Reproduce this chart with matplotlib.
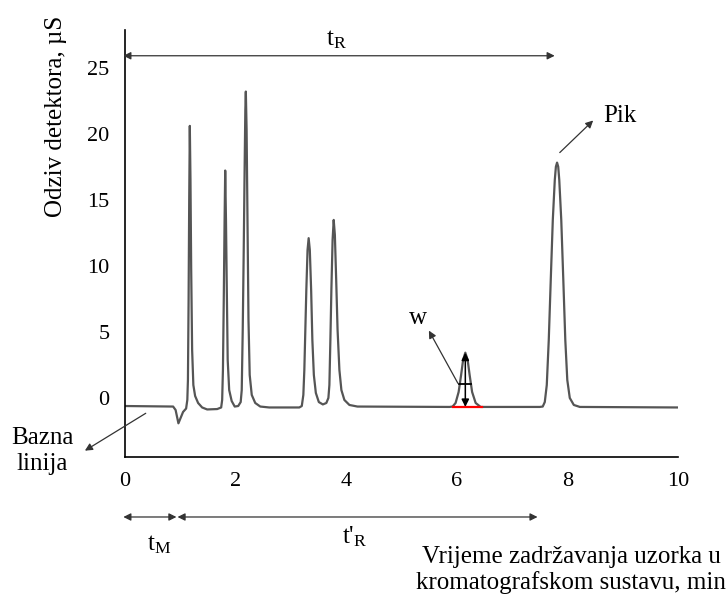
import matplotlib
matplotlib.use('Agg')
import matplotlib.pyplot as plt

plt.rcParams['font.family'] = ['Liberation Serif', 'DejaVu Serif']
plt.rcParams['mathtext.fontset'] = 'custom'
plt.rcParams['mathtext.rm'] = 'Liberation Serif'
plt.rcParams['mathtext.it'] = 'Liberation Serif:italic'

# chromatogram (time in min, signal in uS)
time_min = [0.00, 0.87, 0.915, 0.966, 1.005, 1.05, 1.105,
            1.127, 1.138, 1.150, 1.161, 1.172, 1.184, 1.197, 1.214, 1.236,
            1.268, 1.322, 1.395, 1.486, 1.667, 1.739,
            1.757, 1.771, 1.786, 1.801, 1.812, 1.826, 1.841, 1.857, 1.884,
            1.929, 1.984, 2.047, 2.092,
            2.111, 2.129, 2.147, 2.165, 2.176, 2.185, 2.199, 2.215, 2.233,
            2.255, 2.292, 2.355, 2.446, 2.609, 3.152,
            3.197, 3.225, 3.243, 3.261, 3.279, 3.301, 3.321, 3.342, 3.366,
            3.388, 3.415, 3.451, 3.505, 3.578, 3.641, 3.678,
            3.696, 3.714, 3.732, 3.754, 3.774, 3.795, 3.819, 3.844, 3.877,
            3.913, 3.967, 4.058, 4.203, 5.870,
            5.924, 5.978, 6.033, 6.078, 6.114, 6.154, 6.196, 6.232, 6.277,
            6.341, 6.431, 7.500,
            7.554, 7.591, 7.627, 7.663, 7.699, 7.736, 7.772, 7.792, 7.813,
            7.834, 7.853, 7.889, 7.926, 7.962, 7.998, 8.043, 8.116, 8.225,
            10.0]
signal = [-0.57, -0.61, -0.87, -1.88, -1.48, -1.02, -0.76,
          -0.11, 1.40, 7.46, 15.04, 20.64, 16.55, 9.73, 3.67, 1.02,
          0.19, -0.34, -0.68, -0.83, -0.80, -0.68,
          -0.11, 2.16, 7.46, 13.52, 17.26, 13.52, 8.22, 2.92, 0.64,
          -0.19, -0.61, -0.57, -0.27,
          0.64, 5.19, 11.25, 18.07, 21.86, 23.24, 20.34, 13.52, 5.95,
          1.78, 0.27, -0.34, -0.61, -0.68, -0.68,
          -0.57, 0.27, 2.16, 5.19, 8.22, 11.25, 12.14, 11.25, 8.22,
          4.43, 1.78, 0.42, -0.27, -0.45, -0.34, 0.04,
          1.02, 4.43, 8.22, 12.01, 13.52, 12.39, 8.98, 5.19, 2.16,
          0.64, -0.11, -0.49, -0.61, -0.64,
          -0.61, -0.34, 0.49, 1.78, 2.92, 3.47, 2.92, 1.78, 0.49,
          -0.34, -0.64, -0.64,
          -0.61, -0.27, 1.02, 4.43, 8.98, 13.52, 16.55, 17.55, 17.86,
          17.55, 16.55, 13.52, 8.98, 4.43, 1.40, 0.04, -0.49, -0.64,
          -0.68]

x_ticks = [0, 2, 4, 6, 8, 10]
y_ticks = [0, 5, 10, 15, 20, 25]

# marked times
t_R_end = 7.77     # end of t_R arrow
t_M = 0.93         # dead time
t_R_prime_end = 7.46
w_peak_t = 6.154
w_peak_top = 3.47
w_base = -0.64
w_half = 1.08
w_half_range = (6.038, 6.25)
w_base_range = (5.924, 6.449)

fig = plt.figure(figsize=(7.26, 5.99), dpi=100)
ax = fig.add_axes([125 / 726, 1 - 457 / 599, 553 / 726, 427 / 599])

ax.plot(time_min, signal, color='#555555', lw=1.6, solid_joinstyle='round')

ax.set_xlim(0, 10)
ax.set_ylim(-4.43, 27.9)
ax.set_xticks(x_ticks)
ax.set_yticks(y_ticks)
ax.tick_params(length=0, labelsize=16, pad=11)
for s in ['top', 'right']:
    ax.spines[s].set_visible(False)
for s in ['left', 'bottom']:
    ax.spines[s].set_linewidth(1.2)

arrow_kw = dict(arrowstyle='<|-|>', color='#333333', lw=0.9, mutation_scale=11,
                shrinkA=0, shrinkB=0)
one_way = dict(arrowstyle='-|>', color='#333333', lw=0.9, mutation_scale=11,
               shrinkA=0, shrinkB=0)

# t_R arrow at the top
ax.annotate('', xy=(t_R_end, 25.95), xytext=(-0.03, 25.95), arrowprops=arrow_kw,
            annotation_clip=False)
ax.text(3.82, 27.2, r'$\mathrm{t_R}$', fontsize=18, ha='center', va='center')

# t_M and t'_R arrows below the axis
tr = ax.get_xaxis_transform()
ax.annotate('', xy=(t_M, -0.1405), xytext=(-0.03, -0.1405), xycoords=tr,
            textcoords=tr, arrowprops=arrow_kw, annotation_clip=False)
ax.annotate('', xy=(t_R_prime_end, -0.1405), xytext=(t_M + 0.02, -0.1405),
            xycoords=tr, textcoords=tr, arrowprops=arrow_kw,
            annotation_clip=False)
ax.text(0.62, -0.206, r'$\mathrm{t_M}$', transform=tr, fontsize=18,
        ha='center', va='center')
ax.text(4.15, -0.187, r"t'$_\mathrm{R}$", transform=tr, fontsize=18,
        ha='center', va='center')

# width of the small peak
ax.annotate('', xy=(w_peak_t, w_peak_top), xytext=(w_peak_t, w_base),
            arrowprops=dict(arrowstyle='<|-|>', color='black', lw=1.1,
                            mutation_scale=11, shrinkA=0, shrinkB=0))
ax.plot(w_half_range, [w_half, w_half], color='black', lw=1.3)
ax.plot(w_base_range, [w_base, w_base], color='red', lw=1.6)
ax.annotate('', xy=(5.495, 5.14), xytext=(6.02, 1.15), arrowprops=one_way)
ax.text(5.29, 6.1, 'w', fontsize=18, ha='center', va='center')

# peak label
ax.annotate('', xy=(8.466, 21.05), xytext=(7.862, 18.62), arrowprops=one_way)
ax.text(8.64, 21.4, 'Pik', fontsize=18, ha='left', va='center')

# baseline label
ax.annotate('', xy=(-0.725, -3.95), xytext=(0.375, -1.12), arrowprops=one_way,
            annotation_clip=False)
ax.text(-1.5, -3.98, 'Bazna\nlinija', fontsize=18, ha='center', va='center',
        linespacing=1.25)

fig.text(56 / 726, 1 - 116 / 599, 'Odziv detektora, µS', rotation=90,
         fontsize=18, ha='center', va='center')
fig.text(571 / 726, 1 - 570 / 599,
         'Vrijeme zadržavanja uzorka u\nkromatografskom sustavu, min',
         fontsize=18, ha='center', va='center', linespacing=1.2)

fig.savefig('out.png', dpi=100)
